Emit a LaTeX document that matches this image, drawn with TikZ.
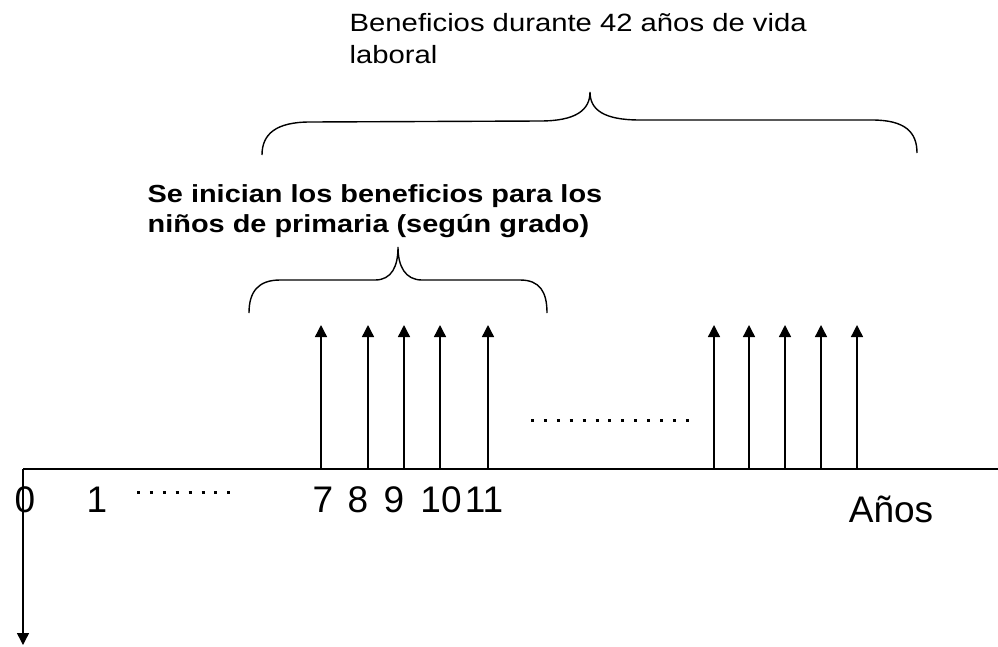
\documentclass[tikz,border=0pt]{standalone}
\usepackage{fontspec}
\setmainfont{Liberation Sans}
\newfontfamily\ancha[FakeStretch=1.17]{Liberation Sans}
\usetikzlibrary{arrows.meta}

\begin{document}
\begin{tikzpicture}[x=1pt,y=-1pt,line width=1.4pt,
    flecha/.style={-{Triangle[length=12pt,width=12pt]}},
    puntos/.style={line width=3pt,dash pattern=on 3pt off 9.9pt},
    numero/.style={font=\fontsize{37}{42}\selectfont,anchor=base,inner sep=0pt}]
    \useasboundingbox (0,0) rectangle (998,646);
    % ejes
    \coordinate (o) at (23,469);
    \coordinate (xfin) at (998,469);
    \coordinate (yfin) at (23,645);
    \draw (o)--(xfin);
    \draw[flecha] (o)--(yfin);
    % flechas de beneficios
    \foreach \x/\n in {321/a,368/b,404/c,440/d,488/e,714/f,749/g,785/h,821/i,857/j}{
        \coordinate (base\n) at (\x,469);
        \coordinate (punta\n) at (\x,325);
        \draw[flecha] (base\n)--(punta\n);
    }
    % puntos
    \draw[puntos] (137,492)--(231,492);
    \draw[puntos] (531,420)--(697,420);
    % numeros
    \node[numero] (n0) at (25,512){0};
    \node[numero] (n1) at (97,512){1};
    \node[numero] (n7) at (323,512){7};
    \node[numero] (n8) at (358,512){8};
    \node[numero] (n9) at (394,512){9};
    \node[numero] (n10) at (441,512){10};
    \node[numero] (n11) at (484,512){11};
    \node[numero] (anios) at (891,522){Años};
    % llaves
    \draw (262,155) .. controls (262,134) and (276,122) .. (310,122) -- (540,121)
        .. controls (576,121) and (590,110) .. (590,92)
        .. controls (590,110) and (604,120) .. (640,120) -- (872,120)
        .. controls (905,120) and (917,132) .. (917,153);
    \draw (249,313) .. controls (249,292) and (258,280) .. (280,280) -- (375,280)
        .. controls (392,280) and (398,266) .. (398,247)
        .. controls (398,266) and (405,280) .. (422,280) -- (520,280)
        .. controls (540,280) and (547,292) .. (547,313);
    % textos
    \node[anchor=base west,inner sep=0pt,align=left,font=\ancha\fontsize{25}{32}\selectfont]
        (vida) at (349,63){Beneficios durante 42 años de vida\\laboral};
    \node[anchor=base west,inner sep=0pt,align=left,font=\ancha\bfseries\fontsize{24.7}{30}\selectfont]
        (primaria) at (147,232){Se inician los beneficios para los\\niños de primaria (según grado)};
\end{tikzpicture}
\end{document}
